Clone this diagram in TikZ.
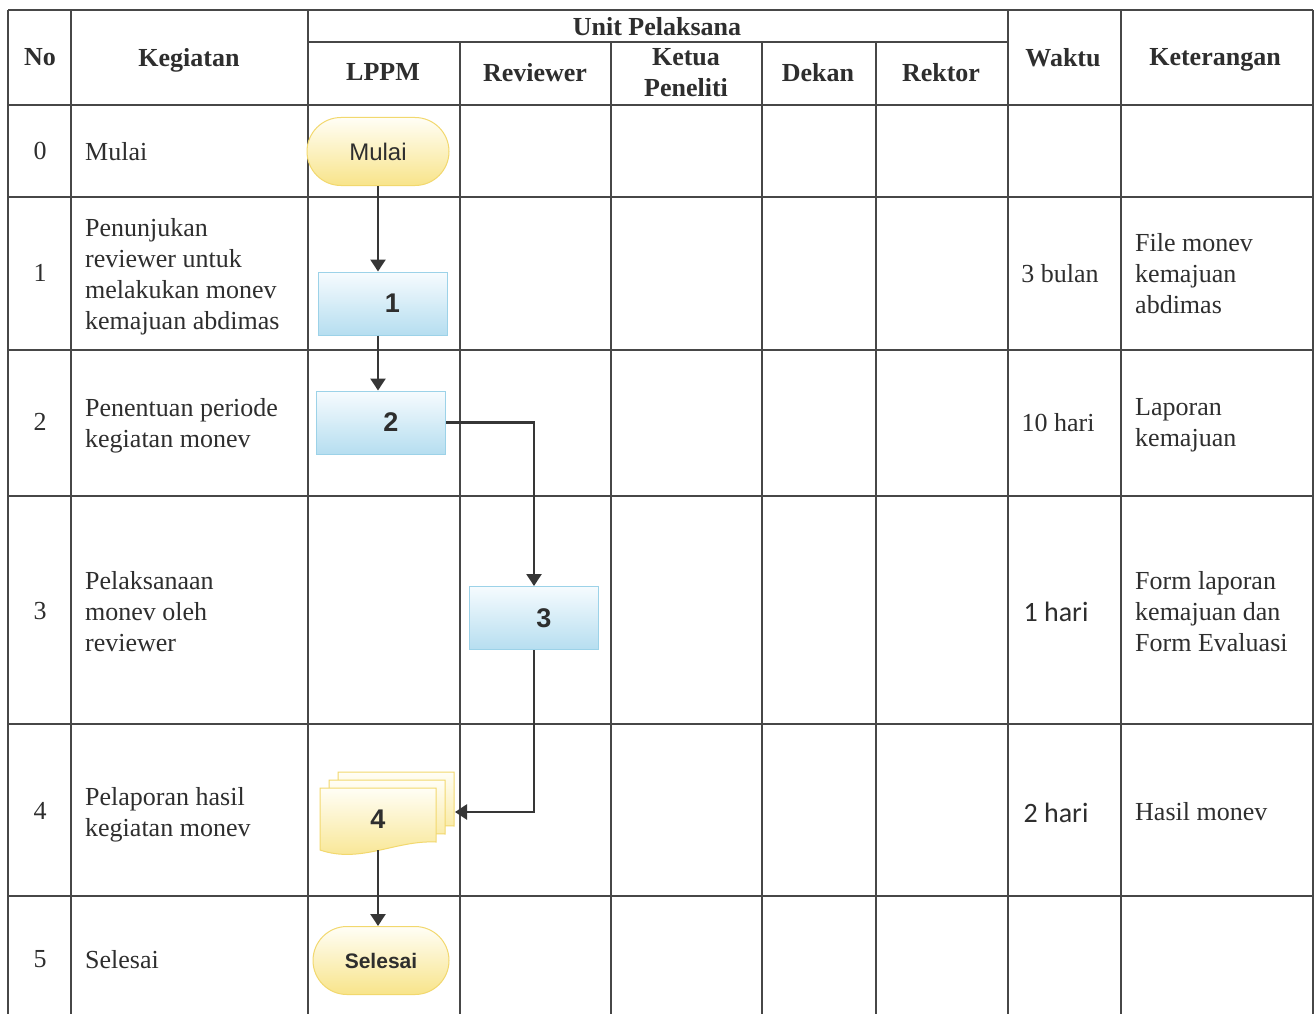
\documentclass[tikz,border=0pt]{standalone}
\usepackage{fontspec}
\setmainfont{Liberation Serif}
\setsansfont{Liberation Sans}
\newfontfamily\calib{Carlito}
\usetikzlibrary{arrows.meta,shapes.misc}

\definecolor{gridline}{HTML}{474747}
\definecolor{ink}{HTML}{2E2E2E}
\definecolor{flowc}{HTML}{363636}
\definecolor{procedge}{HTML}{9CD2E8}
\definecolor{proctop}{HTML}{F6FBFE}
\definecolor{procbot}{HTML}{B6DEF0}
\definecolor{termedge}{HTML}{F2D86E}
\definecolor{termtop}{HTML}{FFFEF6}
\definecolor{termbot}{HTML}{F8E48A}

% one sheet of the stacked-document symbol: left x, top y, width, height
\newcommand\drawdocpage[4]{%
  \path[draw=termedge, line width=1pt, top color=termtop, bottom color=termbot]
    (#1,#2) -- ({#1+#3},#2) -- ({#1+#3},{#2+#4-12})
    .. controls ({#1+0.65*#3},{#2+#4-14}) and ({#1+0.35*#3},{#2+#4+10}) .. (#1,{#2+#4-4})
    -- cycle;}

\begin{document}
\begin{tikzpicture}[x=1pt,y=-1pt,
  grid/.style={draw=gridline, line width=1.4pt},
  hdr/.style={font=\bfseries\fontsize{26}{31}\selectfont, text=ink, align=center, inner sep=0pt, anchor=north},
  cell/.style={font=\fontsize{26}{31}\selectfont, text=ink, align=left, inner sep=0pt, anchor=north west},
  num/.style={font=\fontsize{26}{31}\selectfont, text=ink, align=center, inner sep=0pt, anchor=north},
  proc/.style={rectangle, draw=procedge, line width=1pt, top color=proctop, bottom color=procbot,
    minimum width=129pt, minimum height=63pt, inner sep=0pt,
    font=\sffamily\bfseries\fontsize{27}{30}\selectfont, text=ink},
  term/.style={rounded rectangle, draw=termedge, line width=1pt, top color=termtop, bottom color=termbot,
    minimum height=68pt, inner sep=0pt, text=ink},
  flow/.style={draw=flowc, line width=2.4pt, -{Triangle[width=15pt,length=12pt]}}]

\useasboundingbox (0,0) rectangle (1316,1014);
\fill[white] (0,0) rectangle (1316,1014);

% table rules
\foreach \yy in {10,105,197,350,496,724,896}
  \draw[grid] (8,\yy) -- (1313,\yy);
\draw[grid] (308,42) -- (1008,42);
\foreach \xx in {8,71,308,1008,1121,1313}
  \draw[grid] (\xx,10) -- (\xx,1014);
\foreach \xx in {460,611,762,876}
  \draw[grid] (\xx,42) -- (\xx,1014);

% header
\node[hdr] (hNo) at (40,48.5) {No};
\node[hdr] (hKeg) at (189,48.5) {Kegiatan};
\node[hdr] (hUnit) at (657,17.5) {Unit Pelaksana};
\node[hdr] (hLppm) at (383,63.5) {LPPM};
\node[hdr] (hRev) at (535,63.5) {Reviewer};
\node[hdr] (hKetua) at (686,48.5) {Ketua\\Peneliti};
\node[hdr] (hDekan) at (818,63.5) {Dekan};
\node[hdr] (hRektor) at (941,63.5) {Rektor};
\node[hdr] (hWaktu) at (1063,48.5) {Waktu};
\node[hdr] (hKet) at (1215,48.5) {Keterangan};

% step numbers
\node[num] (n0) at (40,142.5) {0};
\node[num] (n1) at (40,264.5) {1};
\node[num] (n2) at (40,413.5) {2};
\node[num] (n3) at (40,602.5) {3};
\node[num] (n4) at (40,802.5) {4};
\node[num] (n5) at (40,950.5) {5};

% activities
\node[cell] (k0) at (85,142.5) {Mulai};
\node[cell] (k1) at (85,218.5) {Penunjukan\\reviewer untuk\\melakukan monev\\kemajuan abdimas};
\node[cell] (k2) at (85,398.5) {Penentuan periode\\kegiatan monev};
\node[cell] (k3) at (85,571.5) {Pelaksanaan\\monev oleh\\reviewer};
\node[cell] (k4) at (85,787.5) {Pelaporan hasil\\kegiatan monev};
\node[cell] (k5) at (85,950.5) {Selesai};

% durations
\node[num] (w1) at (1060,264.5) {3 bulan};
\node[num] (w2) at (1058,413.5) {10 hari};
\node[num, font=\calib\fontsize{28}{31}\selectfont] (w3) at (1056,601.5) {1 hari};
\node[num, font=\calib\fontsize{28}{31}\selectfont] (w4) at (1056,802.5) {2 hari};

% notes
\node[cell] (r1) at (1135,233.5) {File monev\\kemajuan\\abdimas};
\node[cell] (r2) at (1135,398.5) {Laporan\\kemajuan};
\node[cell] (r3) at (1135,571.5) {Form laporan\\kemajuan dan\\Form Evaluasi};
\node[cell] (r4) at (1135,802.5) {Hasil monev};

% flowchart symbols
\node[term, minimum width=142pt, font=\sffamily\fontsize{24}{26}\selectfont] (mulai) at (378,151.5) {\raisebox{-6pt}{Mulai}};
\node[proc] (p1) at (382.5,303.5) {\hspace*{20pt}1};
\node[proc] (p2) at (381,422.5) {\hspace*{20pt}2};
\node[proc] (p3) at (534,618) {\hspace*{20pt}3};

% stacked documents of step 4
\drawdocpage{338}{772}{116}{66}
\drawdocpage{329}{780}{116}{66}
\drawdocpage{320}{788}{116}{66}
\node[inner sep=0pt, minimum width=116pt, minimum height=62pt,
  font=\sffamily\bfseries\fontsize{27}{30}\selectfont, text=ink] (d4) at (378,819) {4};
\coordinate (d4in) at (455,812);

\node[term, minimum width=136pt, font=\sffamily\bfseries\fontsize{21}{24}\selectfont] (sel) at (381,960.5) {Selesai};

% connectors
\draw[flow] (mulai.south) -- (mulai.south |- p1.north);
\draw[flow] (mulai.south |- p1.south) -- (mulai.south |- p2.north);
\draw[flow] (p2.east) -| (p3.north);
\draw[flow] (p3.south) |- (d4in);
\draw[flow] (d4.south) -- (d4.south |- sel.north);
\end{tikzpicture}
\end{document}
